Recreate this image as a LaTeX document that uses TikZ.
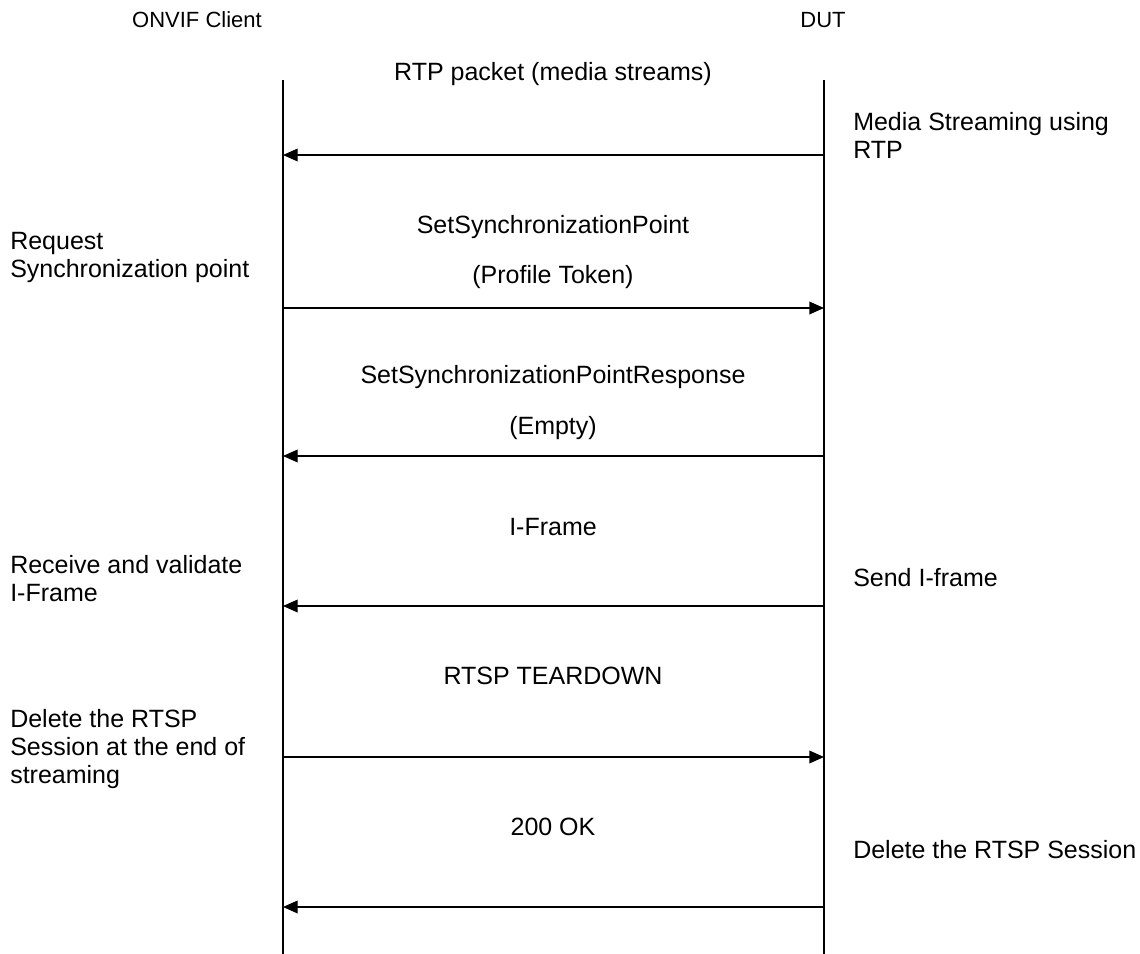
\documentclass[tikz,border=0pt]{standalone}
\usepackage{fontspec}
\setmainfont{Liberation Sans}
\usetikzlibrary{arrows.meta}

\begin{document}
\begin{tikzpicture}[x=0.75pt,y=-0.75pt,>={Triangle[length=11pt,width=9.5pt]},
  every node/.style={font=\fontsize{18.75}{21}\selectfont,inner sep=0pt},
  actor/.style={font=\fontsize{16.5}{20}\selectfont},
  lifeline/.style={line width=1pt},
  msg/.style={->,line width=1pt},
  note/.style={anchor=west,align=left}]
\useasboundingbox (0,0) rectangle (1140,954);
% lifelines
\coordinate (ctop) at (283,80); \coordinate (cbot) at (283,954);
\coordinate (dtop) at (824,80); \coordinate (dbot) at (824,954);
\draw[lifeline] (ctop)--(cbot);
\draw[lifeline] (dtop)--(dbot);
\node[actor] (client) at (197,20) {ONVIF Client};
\node[actor] (dut) at (823,20) {DUT};
% message rows
\foreach \i/\y in {1/155,2/308,3/456,4/606,5/757,6/907}{
  \coordinate (c\i) at (283,\y); \coordinate (d\i) at (824,\y);}
\draw[msg] (d1)--(c1);
\draw[msg] (c2)--(d2);
\draw[msg] (d3)--(c3);
\draw[msg] (d4)--(c4);
\draw[msg] (c5)--(d5);
\draw[msg] (d6)--(c6);
% message labels
\node (rtp) at (553,74) {RTP packet (media streams)};
\node (setsp) at (553,227) {SetSynchronizationPoint};
\node (token) at (553,277) {(Profile Token)};
\node (setspr) at (553,377) {SetSynchronizationPointResponse};
\node (empty) at (553,428) {(Empty)};
\node (iframe) at (553,527) {I-Frame};
\node (teardown) at (553,676) {RTSP TEARDOWN};
\node (ok) at (553,827) {200 OK};
% side notes
\node[note] (streaming) at (853,135) {Media Streaming using\\RTP};
\node[note] (request) at (10,257) {Request\\Synchronization point};
\node[note] (validate) at (10,579) {Receive and validate\\I-Frame};
\node[note] (send) at (853,578) {Send I-frame};
\node[note] (delclient) at (10,749) {Delete the RTSP\\Session at the end of\\streaming};
\node[note] (deldut) at (853,850) {Delete the RTSP Session};
\end{tikzpicture}
\end{document}
